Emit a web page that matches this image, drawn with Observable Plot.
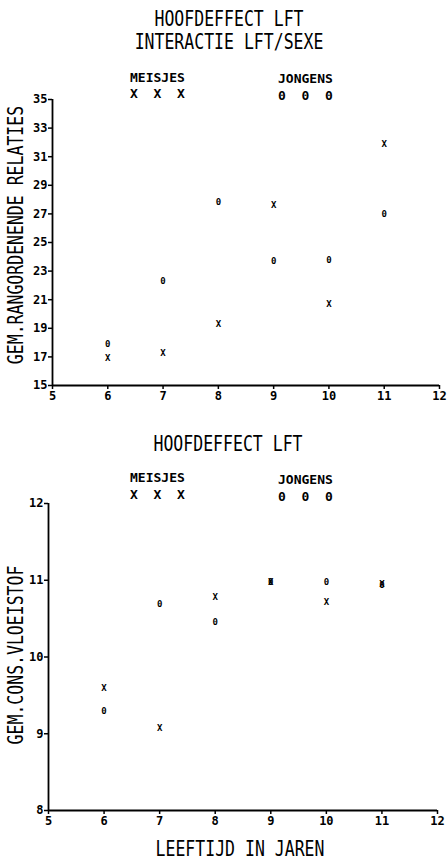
<!DOCTYPE html>
<html>
<head>
<meta charset="utf-8">
<script src="https://cdn.jsdelivr.net/npm/d3@7"></script>
<script src="https://cdn.jsdelivr.net/npm/@observablehq/plot@0.6"></script>
<style>
  html, body { margin: 0; padding: 0; background: #fff; }
  #page { position: relative; width: 447px; height: 860px; overflow: hidden; background: #fff; color: #000;
          font-family: "DejaVu Sans Mono", "Liberation Mono", monospace; }
  .t { position: absolute; white-space: pre; line-height: 1; z-index: 2; }
  .title { font-size: 16.5px; transform: translate(-50%, -50%) scaleY(1.3); }
  .leg { font-size: 13px; font-weight: bold; transform: translate(0, -50%); }
  .ylab { font-size: 16.5px; transform: translate(-50%, -50%) rotate(-90deg) scaleY(1.3); }
  .chart { position: absolute; left: 0; z-index: 1; }
</style>
</head>
<body>
<div id="page"></div>
<script>
// ---- data ----
const ages = [6, 7, 8, 9, 10, 11];
const rangMeisjes = [16.9, 17.3, 19.3, 27.6, 20.7, 31.9];
const rangJongens = [17.9, 22.3, 27.8, 23.7, 23.8, 27.0];
const vloeiMeisjes = [9.6, 9.08, 10.78, 10.97, 10.72, 10.95];
const vloeiJongens = [9.29, 10.69, 10.45, 10.97, 10.97, 10.94];
const xTicks = [5, 6, 7, 8, 9, 10, 11, 12];
const rangTicks = [15, 17, 19, 21, 23, 25, 27, 29, 31, 33, 35];
const vloeiTicks = [8, 9, 10, 11, 12];
const seriesNames = ["MEISJES", "JONGENS"];
const seriesGlyphs = ["X", "0"];

const page = document.getElementById("page");
function addText(cls, txt, x, y) {
  const d = document.createElement("div");
  d.className = "t " + cls;
  d.textContent = txt;
  d.style.left = x + "px";
  d.style.top = y + "px";
  page.appendChild(d);
  return d;
}

function rows(ys, series) {
  return ages.map((a, i) => ({age: a, v: ys[i], s: series}));
}

function chart({yDomain, yTicks, meisjes, jongens, width, height, ml, mr, mt, mb}) {
  const data = [...rows(meisjes, seriesNames[0]), ...rows(jongens, seriesNames[1])];
  return Plot.plot({
    width, height,
    marginLeft: ml, marginRight: mr, marginTop: mt, marginBottom: mb,
    style: {fontFamily: "'DejaVu Sans Mono', monospace", fontSize: "12px", fontWeight: "bold", color: "#000", background: "transparent", overflow: "visible"},
    x: {domain: [xTicks[0], xTicks[xTicks.length - 1]]},
    y: {domain: yDomain},
    marks: [
      Plot.ruleX([xTicks[0]], {stroke: "#000", strokeWidth: 1.8}),
      Plot.ruleY([yDomain[0]], {stroke: "#000", strokeWidth: 1.8}),
      Plot.axisX({ticks: xTicks, tickSize: 4, tickPadding: 2, strokeWidth: 1.5, label: null, tickFormat: d => String(d)}),
      Plot.axisY({ticks: yTicks, tickSize: 4, tickPadding: 1, strokeWidth: 1.5, label: null, tickFormat: d => String(d)}),
      Plot.text(data, {x: "age", y: "v", text: d => seriesGlyphs[seriesNames.indexOf(d.s)],
        fontSize: 9, fontWeight: "bold", fill: "#000"})
    ]
  });
}

// ---- charts ----
const top1 = chart({yDomain: [15, 35], yTicks: rangTicks, meisjes: rangMeisjes, jongens: rangJongens,
  width: 447, height: 330, ml: 52, mr: 8, mt: 14, mb: 30});
top1.classList.add("chart");
top1.style.top = "85px";
page.appendChild(top1);

const bot = chart({yDomain: [8, 12], yTicks: vloeiTicks, meisjes: vloeiMeisjes, jongens: vloeiJongens,
  width: 447, height: 340, ml: 48, mr: 10, mt: 13, mb: 20});
bot.classList.add("chart");
bot.style.top = "490px";
page.appendChild(bot);

// ---- texts: top chart ----
addText("title", "HOOFDEFFECT LFT", 229, 20);
addText("title", "INTERACTIE LFT/SEXE", 229, 43);
addText("leg", seriesNames[0], 130, 77);
addText("leg", seriesGlyphs[0] + "  " + seriesGlyphs[0] + "  " + seriesGlyphs[0], 130, 93);
addText("leg", seriesNames[1], 278, 78);
addText("leg", seriesGlyphs[1] + "  " + seriesGlyphs[1] + "  " + seriesGlyphs[1], 278, 95);
addText("ylab", "GEM.RANGORDENENDE RELATIES", 17, 235);

// ---- texts: bottom chart ----
addText("title", "HOOFDEFFECT LFT", 228, 445);
addText("leg", seriesNames[0], 130, 477);
addText("leg", seriesGlyphs[0] + "  " + seriesGlyphs[0] + "  " + seriesGlyphs[0], 130, 494);
addText("leg", seriesNames[1], 278, 479);
addText("leg", seriesGlyphs[1] + "  " + seriesGlyphs[1] + "  " + seriesGlyphs[1], 278, 496);
addText("ylab", "GEM.CONS.VLOEISTOF", 17, 655);
addText("title", "LEEFTIJD IN JAREN", 240, 850);
</script>
</body>
</html>
